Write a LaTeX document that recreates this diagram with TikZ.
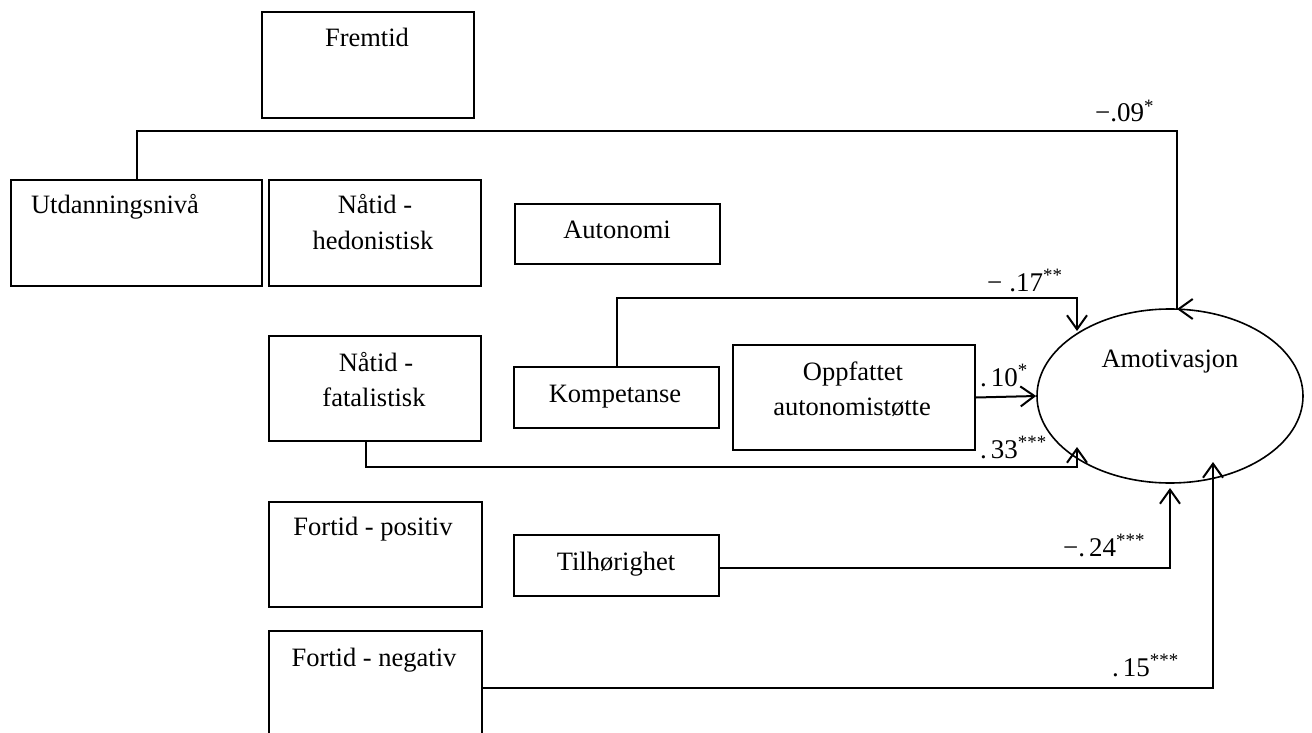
\documentclass[tikz,border=0pt]{standalone}
\usepackage{fontspec}
\setmainfont{Liberation Serif}
\usetikzlibrary{arrows.meta,shapes.geometric}
\begin{document}
\begin{tikzpicture}[x=1pt,y=-1pt,
  box/.style={draw, line width=2pt, inner sep=0pt, anchor=north west},
  txt/.style={font=\fontsize{26.5}{35}\selectfont, inner sep=0pt, anchor=base},
  lbl/.style={font=\fontsize{27}{32}\selectfont, inner sep=0pt, anchor=base west},
  conn/.style={line width=2pt},
  arr/.style={conn, -{Straight Barb[length=14pt,width=20pt]}}]
\useasboundingbox (0,0) rectangle (1312,733);
\clip (0,0) rectangle (1312,733);

% boxes
\node[box, minimum width=212pt, minimum height=106pt] (fremtid) at (261,11) {};
\node[box, minimum width=251pt, minimum height=106pt] (utd) at (10,179) {};
\node[box, minimum width=212pt, minimum height=106pt] (nh) at (268,179) {};
\node[box, minimum width=205pt, minimum height=60pt] (aut) at (514,203) {};
\node[box, minimum width=212pt, minimum height=105pt] (nf) at (268,335) {};
\node[box, minimum width=205pt, minimum height=61pt] (komp) at (513,366) {};
\node[box, minimum width=242pt, minimum height=105pt] (opp) at (732,344) {};
\node[box, minimum width=213pt, minimum height=105pt] (fp) at (268,501) {};
\node[box, minimum width=205pt, minimum height=61pt] (til) at (513,534) {};
\node[box, minimum width=213pt, minimum height=114pt] (fn) at (268,630) {};
\node[draw, ellipse, line width=1.6pt, minimum width=266pt, minimum height=174pt, inner sep=0pt] (amo) at (1170,396) {};

% texts
\node[txt] (fremtidT) at (367,47) {Fremtid};
\node[txt] (utdT) at (115,213) {Utdanningsnivå};
\node[txt] (nhT1) at (375,213) {Nåtid -};
\node[txt] (nhT2) at (373,249) {hedonistisk};
\node[txt] (autT) at (617,238) {Autonomi};
\node[txt] (nfT1) at (376,371) {Nåtid -};
\node[txt] (nfT2) at (374,406) {fatalistisk};
\node[txt] (kompT) at (615,402) {Kompetanse};
\node[txt] (oppT1) at (853,380) {Oppfattet};
\node[txt] (oppT2) at (852,415) {autonomistøtte};
\node[txt] (amoT) at (1170,367) {Amotivasjon};
\node[txt] (fpT) at (373,535) {Fortid - positiv};
\node[txt] (tilT) at (616,570) {Tilhørighet};
\node[txt] (fnT) at (374,666) {Fortid - negativ};

% connector coordinates
\coordinate (c09) at (1177,131);
\coordinate (t09) at (1177,309);
\coordinate (c17) at (1077,298);
\coordinate (t17) at (1077,331);
\coordinate (s33) at (366,440);
\coordinate (c33) at (1077,467);
\coordinate (t33) at (1077,447);
\coordinate (t24) at (1170,488);
\coordinate (t15) at (1213,462);

% connectors
\draw[conn] (utd.north) |- (c09) -- (t09);
\draw[arr] (t09) ++(2,0) -- (t09);
\draw[arr] (komp.north) |- (c17) -- (t17);
\draw[arr] (opp.east) -- (amo.west);
\draw[arr] (s33) |- (c33) -- (t33);
\draw[arr] (til.east |- 0,568) -| (t24);
\draw[arr] (fn.east) -| (t15);

% labels
\node[lbl] (l09) at (1095,122) {−.09\textsuperscript{*}};
\node[lbl] (l17) at (987,291) {−\hspace{7pt}.17\textsuperscript{**}};
\node[lbl] (l10) at (980,386) {.\hspace{4pt}10\textsuperscript{*}};
\node[lbl] (l33) at (980,458) {.\hspace{4pt}33\textsuperscript{***}};
\node[lbl] (l24) at (1063,556) {−.\hspace{4pt}24\textsuperscript{***}};
\node[lbl] (l15) at (1112,676) {.\hspace{4pt}15\textsuperscript{***}};
\end{tikzpicture}
\end{document}
